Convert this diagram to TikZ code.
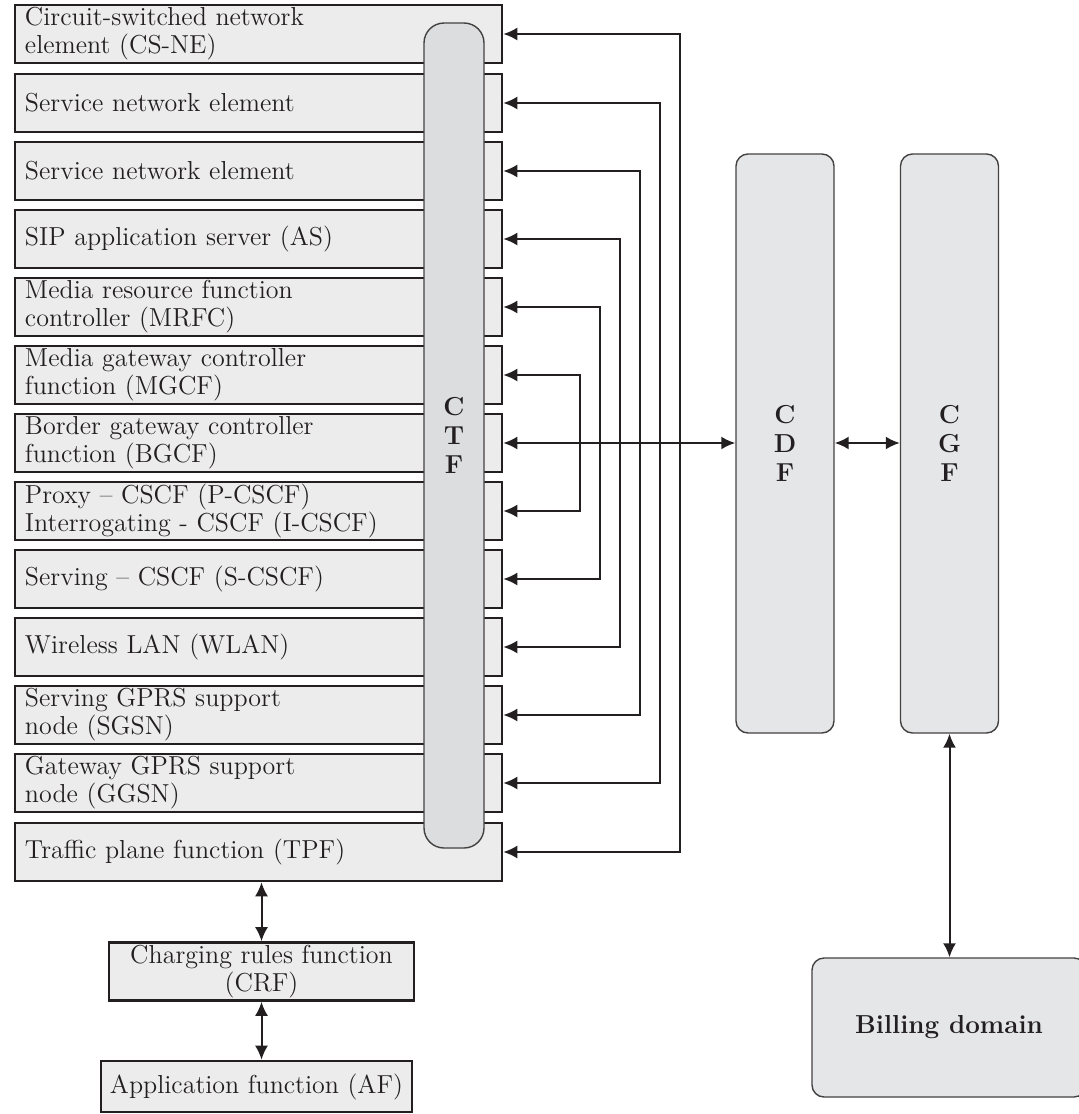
\documentclass[tikz,border=0pt]{standalone}
\usetikzlibrary{arrows.meta}
\definecolor{boxfill}{RGB}{235,236,235}
\definecolor{busfill}{RGB}{220,221,223}
\definecolor{unitfill}{RGB}{229,230,232}
\definecolor{ink}{RGB}{35,31,32}
\begin{document}
\begin{tikzpicture}[x=0.5pt,y=-0.5pt,
  elem/.style={draw=ink, line width=1.3pt, fill=boxfill, text=ink,
    minimum width=243.5pt, minimum height=29pt, inner xsep=5pt, inner ysep=0pt,
    text width=233.5pt, align=left, font=\fontsize{13}{14}\selectfont},
  plainbox/.style={draw=ink, line width=1.3pt, fill=boxfill, text=ink,
    inner sep=0pt, align=center, font=\fontsize{13}{14}\selectfont},
  bus/.style={draw=ink!85, line width=0.7pt, fill=busfill, text=ink,
    rounded corners=10pt, minimum width=30pt, minimum height=412.5pt,
    inner sep=0pt, align=center, font=\bfseries\fontsize{13}{14.5}\selectfont},
  unit/.style={draw=ink!85, line width=0.7pt, fill=unitfill, text=ink,
    rounded corners=6pt, minimum width=49pt, minimum height=289.5pt,
    inner sep=0pt, align=center, font=\bfseries\fontsize{13}{14.5}\selectfont},
  link/.style={draw=ink, line width=1pt,
    arrows={Latex[length=7pt,width=6.5pt]-Latex[length=7pt,width=6.5pt]}}
]
\useasboundingbox (0,0) rectangle (1079,1114);

% network elements feeding the charging trigger function
\node[elem] (r1)  at (258.5,34)  {Circuit-switched network\\element (CS-NE)};
\node[elem] (r2)  at (258.5,103) {Service network element};
\node[elem] (r3)  at (258.5,171) {Service network element};
\node[elem] (r4)  at (258.5,239) {SIP application server (AS)};
\node[elem] (r5)  at (258.5,307) {Media resource function\\controller (MRFC)};
\node[elem] (r6)  at (258.5,375) {Media gateway controller\\function (MGCF)};
\node[elem] (r7)  at (258.5,443) {Border gateway controller\\function (BGCF)};
\node[elem] (r8)  at (258.5,511) {Proxy -- CSCF (P-CSCF)\\Interrogating - CSCF (I-CSCF)};
\node[elem] (r9)  at (258.5,579) {Serving -- CSCF (S-CSCF)};
\node[elem] (r10) at (258.5,647) {Wireless LAN (WLAN)};
\node[elem] (r11) at (258.5,715) {Serving GPRS support\\node (SGSN)};
\node[elem] (r12) at (258.5,783) {Gateway GPRS support\\node (GGSN)};
\node[elem] (r13) at (258.5,852) {Traffic plane function (TPF)};

% charging trigger function bar across all elements
\node[bus] (ctf) at (454,435.5) {C\\T\\F};

% charging data / gateway functions and billing
\node[unit] (cdf) at (785,443.5) {C\\D\\F};
\node[unit] (cgf) at (949.5,443.5) {C\\G\\F};
\node[unit, rounded corners=6pt, minimum width=137pt, minimum height=69.5pt] (bill) at (949,1027.5) {Billing domain};

% policy chain below the TPF
\node[plainbox, minimum width=152.5pt, minimum height=29pt] (crf) at (261.5,971.5) {Charging rules function\\(CRF)};
\node[plainbox, minimum width=155.5pt, minimum height=25.5pt] (af) at (256.5,1086.5) {Application function (AF)};

% vertical rails of the nested loops
\coordinate (v1) at (680,0);
\coordinate (v2) at (660,0);
\coordinate (v3) at (640,0);
\coordinate (v4) at (620,0);
\coordinate (v5) at (600,0);
\coordinate (v6) at (580,0);

\draw[link] (r1.east) -- (r1.east -| v1) -- (r13.east -| v1) -- (r13.east);
\draw[link] (r2.east) -- (r2.east -| v2) -- (r12.east -| v2) -- (r12.east);
\draw[link] (r3.east) -- (r3.east -| v3) -- (r11.east -| v3) -- (r11.east);
\draw[link] (r4.east) -- (r4.east -| v4) -- (r10.east -| v4) -- (r10.east);
\draw[link] (r5.east) -- (r5.east -| v5) -- (r9.east -| v5) -- (r9.east);
\draw[link] (r6.east) -- (r6.east -| v6) -- (r8.east -| v6) -- (r8.east);

\draw[link] (r7.east) -- (r7.east -| cdf.west);
\draw[link] (cdf.east |- r7.east) -- (cgf.west |- r7.east);
\draw[link] (cgf.south) -- (cgf.south |- bill.north);

\draw[link] (crf.north) -- (crf.north |- r13.south);
\draw[link] (crf.south) -- (crf.south |- af.north);
\end{tikzpicture}
\end{document}
